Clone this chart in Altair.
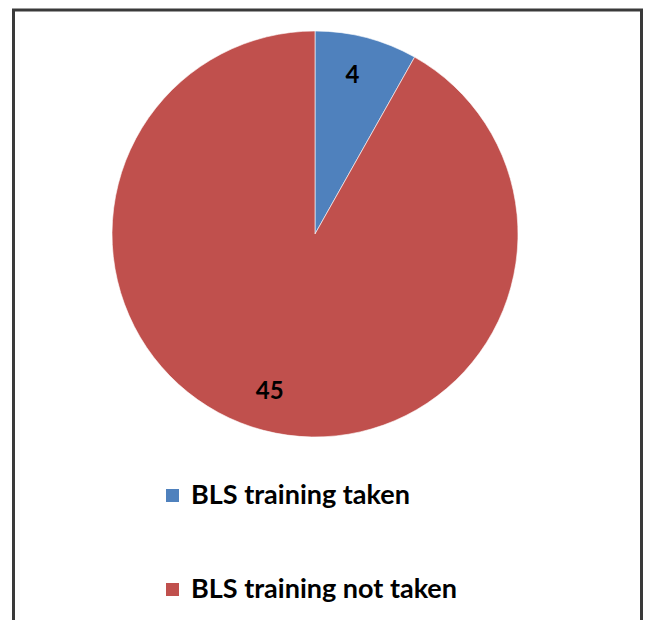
import altair as alt
import pandas as pd

categories = ["BLS training taken", "BLS training not taken"]
values = [4, 45]
colors = ["#4F81BD", "#C0504D"]

df = pd.DataFrame({"category": categories, "value": values, "order": [0, 1]})

W, H = 635, 612
CX, CY, R = 307, 226, 203

base = alt.Chart(df).encode(
    theta=alt.Theta("value:Q", stack=True),
    order=alt.Order("order:Q"),
)

pie = base.mark_arc(outerRadius=R, stroke="#ffffff", strokeWidth=0.6).encode(
    x=alt.value(CX), y=alt.value(CY),
    color=alt.Color(
        "category:N",
        scale=alt.Scale(domain=categories, range=colors),
        sort=categories,
        legend=alt.Legend(
            title=None, orient="none", legendX=151, legendY=474,
            direction="vertical", symbolType="square", symbolSize=170,
            symbolStrokeWidth=0, labelFont="Lato", labelFontSize=27,
            labelFontWeight="bold",
            labelColor="#000000", rowPadding=66, labelOffset=5,
            labelLimit=400,
        ),
    ),
)

labels = base.mark_text(
    radius=163, font="Lato", fontSize=24, fontWeight="bold", color="#000000",
    dx=-4
).encode(
    x=alt.value(CX), y=alt.value(CY),
    text=alt.Text("value:Q"),
)

border = alt.Chart(pd.DataFrame({"a": [0]})).mark_rect(
    fill=None, stroke="#3a3a3a", strokeWidth=3
).encode(
    x=alt.value(5.5), x2=alt.value(633.5), y=alt.value(2), y2=alt.value(640)
)

chart = alt.layer(border, pie, labels).properties(
    width=W, height=H, autosize=alt.AutoSizeParams(type="none"), padding=0
).configure_view(stroke=None)

chart.save("out.html", embed_options={"renderer": "svg", "actions": False})
